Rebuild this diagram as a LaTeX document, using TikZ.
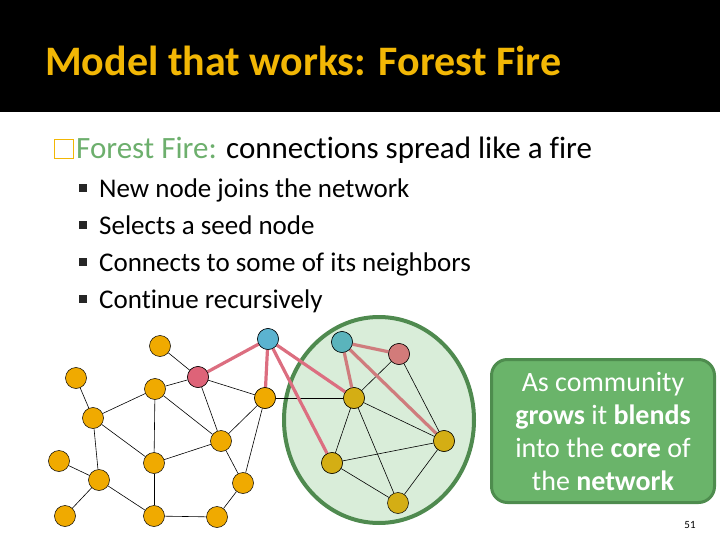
\documentclass[tikz,border=0pt]{standalone}
\usepackage{fontspec}
\setmainfont[Ligatures={NoCommon}]{Carlito}
\usetikzlibrary{shapes.geometric}
\begin{document}
\begin{tikzpicture}[x=1pt,y=-1pt,
  nd/.style={circle,draw=black,line width=0.5pt,minimum size=21pt,inner sep=0pt,fill=#1},
  nd/.default={orange1},
  ed/.style={line width=0.6pt},
  fire/.style={line width=3.2pt,color=pinkE},
  fire2/.style={line width=3.2pt,color=brownE},
  bul/.style={anchor=base west,inner sep=0pt,font=\fontsize{27}{30}\selectfont}]
\definecolor{orange1}{HTML}{F0AA00}
\definecolor{olive1}{HTML}{D4AE14}
\definecolor{cyan1}{HTML}{5BB3D0}
\definecolor{cyan2}{HTML}{5AB4BC}
\definecolor{red1}{HTML}{DE6378}
\definecolor{red2}{HTML}{D27B7A}
\definecolor{pinkE}{HTML}{DC6E80}
\definecolor{brownE}{HTML}{CF7C7D}
\definecolor{gold}{HTML}{F2B705}
\definecolor{ffgreen}{HTML}{6DAF6D}
\definecolor{boxfill}{HTML}{6AB46A}
\definecolor{boxdraw}{HTML}{4E8C4E}
\definecolor{ellfill}{HTML}{D9EDD9}
\definecolor{elldraw}{HTML}{4F8A4F}
\useasboundingbox (0,0) rectangle (720,540);
\fill[black] (0,0) rectangle (720,112);
\node[anchor=base west,inner sep=0pt,text=gold,font=\fontsize{42}{46}\selectfont\bfseries] (title) at (45,76) {Model that works: Forest Fire};
\node[anchor=base west,inner sep=0pt,font=\fontsize{31}{34}\selectfont] (ff) at (76,159) {\textcolor{ffgreen}{Forest Fire:} connections spread like a fire};
\node[draw=gold,line width=1pt,minimum size=19pt,inner sep=0pt,anchor=south west] (sq) at (54,159) {};
\foreach \y/\t [count=\i] in {197/New node joins the network,234/Selects a seed node,271/Connects to some of its neighbors,308/Continue recursively}{
  \node[fill=black!85,minimum size=8pt,inner sep=0pt] (b\i) at (83,\y-9) {};
  \node[bul] (t\i) at (99,\y) {\t};
}
\node[draw=elldraw,fill=ellfill,line width=4pt,ellipse,minimum width=190pt,minimum height=206pt] (ell) at (379,420) {};
\node[nd] (a) at (160,346) {};
\node[nd] (b) at (76,378) {};
\node[nd] (c) at (93,418) {};
\node[nd] (d) at (59,461) {};
\node[nd] (e) at (99,480) {};
\node[nd] (f) at (65,516) {};
\node[nd] (g) at (155,389) {};
\node[nd=red1] (h) at (198,377) {};
\node[nd=cyan1] (i) at (268,339) {};
\node[nd] (j) at (265,398) {};
\node[nd] (k) at (221,441) {};
\node[nd] (l) at (154,463) {};
\node[nd] (m) at (243,483) {};
\node[nd] (n) at (154,516) {};
\node[nd] (o) at (217,517) {};
\node[nd=cyan2] (p) at (342,342) {};
\node[nd=red2] (q) at (399,354) {};
\node[nd=olive1] (r) at (354,398) {};
\node[nd=olive1] (s) at (444,441) {};
\node[nd=olive1] (t) at (332,463) {};
\node[nd=olive1] (u) at (398,503) {};
\foreach \u/\v in {a/h,b/c,c/g,c/l,c/e,d/e,e/f,e/n,g/h,g/l,g/k,h/j,h/k,j/k,j/m,k/l,k/m,l/n,n/o,o/m,j/r,r/q,r/t,r/s,r/u,t/s,t/u,s/u,q/s}
  \draw[ed] (\u) -- (\v);
\foreach \v in {h,j,r,t} \draw[fire] (i) -- (\v);
\foreach \v in {q,r,s} \draw[fire2] (p) -- (\v);
\foreach \nn/\cc/\xx/\yy in {h/red1/198/377,i/cyan1/268/339,j/orange1/265/398,p/cyan2/342/342,q/red2/399/354,r/olive1/354/398,s/olive1/444/441,t/olive1/332/463}
  \node[nd=\cc] (\nn-top) at (\xx,\yy) {};
\node[draw=boxdraw,fill=boxfill,line width=3pt,rounded corners=16pt,minimum width=223pt,minimum height=143pt,text=white,align=center,font=\fontsize{28}{33}\selectfont] (box) at (603,431) {As community\\\textbf{grows} it \textbf{blends}\\into the \textbf{core} of\\the \textbf{network}};
\node[font=\fontsize{11}{12}\selectfont] (pg) at (690,525) {51};
\end{tikzpicture}
\end{document}
